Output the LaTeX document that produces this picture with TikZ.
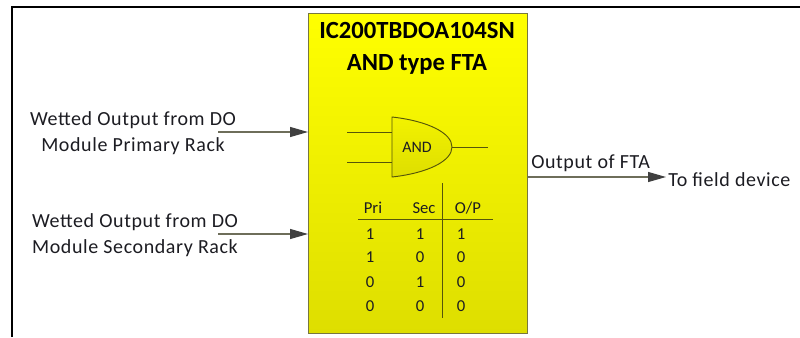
\documentclass[tikz,border=0pt]{standalone}
\usepackage{fontspec}
\setmainfont{Carlito}
\usetikzlibrary{positioning, arrows.meta, calc}
\definecolor{FtaInk}{HTML}{1C1C22}
\definecolor{FtaWire}{HTML}{6E6E5A}
\definecolor{FtaGate}{HTML}{55550A}
\definecolor{FtaHead}{HTML}{404040}
\definecolor{FtaEdge}{HTML}{77773F}
\definecolor{FtaTop}{HTML}{FFFF00}
\definecolor{FtaLow}{HTML}{DEDE00}
\tikzset{
  ftabox/.style   = {draw=FtaEdge, top color=FtaTop, bottom color=FtaLow, line width=1pt,
                     minimum width=164.25pt, minimum height=240pt, inner sep=0pt, anchor=north west},
  ftatitle/.style = {font=\fontsize{18.5}{24}\selectfont\bfseries, text=black, align=center, inner sep=0pt},
  ftalbl/.style   = {font=\fontsize{15}{19.5}\selectfont\addfontfeature{LetterSpace=3}, text=FtaInk, align=center, inner sep=0pt},
  ftaarr/.style   = {-{Triangle[length=13.5pt, width=7.5pt, color=FtaHead]}, draw=FtaWire, line width=0.9pt},
  gateline/.style = {draw=FtaGate, line width=0.7pt},
  gatebody/.style = {gateline, top color=FtaTop!95!black, bottom color=FtaLow, line join=round},
  cellval/.style  = {font=\fontsize{12.5}{14}\selectfont, text=FtaInk, inner sep=0pt},
}
\begin{document}
\begin{tikzpicture}[x=0.75pt, y=-0.75pt]
    \useasboundingbox (0,0) rectangle (800,337);
    % page frame
    \coordinate (frameb) at (12,337); \coordinate (framec) at (12,7); \coordinate (framee) at (800,7);
    \draw[black, line width=1.2pt] (frameb) -- (framec) -- (framee);
    % module
    \node[ftabox] (fta) at (308,13) {};
    \node[ftatitle] (title) at (417,48) {IC200TBDOA104SN\\AND type FTA};
    % texts at the sides
    \node[ftalbl] (pri) at (133,133) {Wetted Output from DO\\Module Primary Rack};
    \node[ftalbl] (sec) at (135,235) {Wetted Output from DO\\Module Secondary Rack};
    \node[ftalbl, anchor=base west] (opl) at (531,168) {Output of FTA};
    \node[ftalbl, anchor=base west] (dev) at (668,186) {To field device};
    % arrows
    \coordinate (prie) at (218,132); \coordinate (prif) at (308,132);
    \coordinate (sece) at (218,234); \coordinate (secf) at (308,234);
    \coordinate (outs) at (527,177); \coordinate (oute) at (666,177);
    \draw[ftaarr] (prie) -- (prif);
    \draw[ftaarr] (sece) -- (secf);
    \draw[ftaarr] (outs) -- (oute);
    % gate
    \coordinate (gatea) at (392,117); \coordinate (gatet) at (452,147); \coordinate (gateb) at (392,177);
    \coordinate (ina) at (392,132); \coordinate (inb) at (392,162);
    \coordinate (ina0) at (347,132); \coordinate (inb0) at (347,162);
    \coordinate (gateo) at (488,147);
    \draw[gatebody] (gatea) .. controls (428,121) and (452,133) .. (gatet)
                            .. controls (452,161) and (428,173) .. (gateb) -- cycle;
    \draw[gateline] (ina0) -- (ina);
    \draw[gateline] (inb0) -- (inb);
    \draw[gateline] (gatet) -- (gateo);
    \node[cellval, font=\fontsize{12}{14}\selectfont] (gatel) at (417,147) {AND};
    % table
    \coordinate (rulel) at (358,219); \coordinate (ruler) at (493,219);
    \coordinate (rulet) at (442,183); \coordinate (ruleb) at (442,318);
    \draw[gateline] (rulel) -- (ruler);
    \draw[gateline] (rulet) -- (ruleb);
    \node[cellval] (hpri) at (373,208) {Pri};
    \node[cellval] (hsec) at (424,208) {Sec};
    \node[cellval] (hop) at (468,208) {O/P};
    \node[cellval] (a1) at (370,234) {1}; \node[cellval] (b1) at (420,234) {1}; \node[cellval] (c1) at (461,234) {1};
    \node[cellval] (a2) at (370,257) {1}; \node[cellval] (b2) at (420,257) {0}; \node[cellval] (c2) at (461,257) {0};
    \node[cellval] (a3) at (370,282) {0}; \node[cellval] (b3) at (420,282) {1}; \node[cellval] (c3) at (461,282) {0};
    \node[cellval] (a4) at (370,306) {0}; \node[cellval] (b4) at (420,306) {0}; \node[cellval] (c4) at (461,306) {0};
\end{tikzpicture}
\end{document}
